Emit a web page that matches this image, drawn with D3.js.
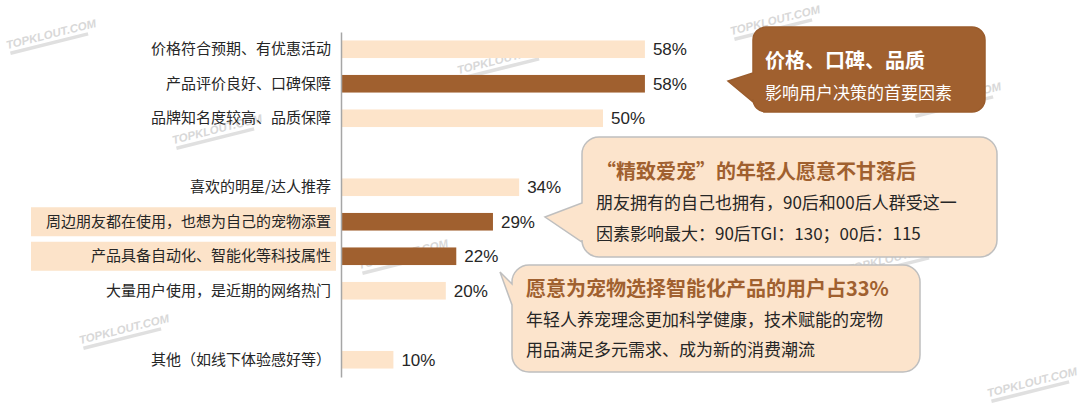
<!DOCTYPE html>
<html>
<head>
<meta charset="utf-8">
<script src="https://cdn.jsdelivr.net/npm/d3@7/dist/d3.min.js"></script>
<style>
  html, body { margin: 0; padding: 0; background: #ffffff; }
  svg { display: block; }
</style>
</head>
<body>
<svg id="chart" width="1080" height="407"></svg>
<script>
// ---------------- data ----------------
const categories = [
  "价格符合预期、有优惠活动",
  "产品评价良好、口碑保障",
  "品牌知名度较高、品质保障",
  "喜欢的明星/达人推荐",
  "周边朋友都在使用，也想为自己的宠物添置",
  "产品具备自动化、智能化等科技属性",
  "大量用户使用，是近期的网络热门",
  "其他（如线下体验感好等）"
];
const values = [58, 58, 50, 34, 29, 22, 20, 10];
const groups = [0, 0, 0, 1, 1, 1, 1, 2];
const darkBars = ["产品评价良好、口碑保障", "周边朋友都在使用，也想为自己的宠物添置", "产品具备自动化、智能化等科技属性"];
const highlightedLabels = ["周边朋友都在使用，也想为自己的宠物添置", "产品具备自动化、智能化等科技属性"];

const callout1Title = "价格、口碑、品质";
const callout1Lines = ["影响用户决策的首要因素"];
const callout2Title = "“精致爱宠”的年轻人愿意不甘落后";
const callout2Lines = ["朋友拥有的自己也拥有，90后和00后人群受这一", "因素影响最大：90后TGI：130；00后：115"];
const callout3Title = "愿意为宠物选择智能化产品的用户占33%";
const callout3Lines = ["年轻人养宠理念更加科学健康，技术赋能的宠物", "用品满足多元需求、成为新的消费潮流"];
const watermarkText = "TOPKLOUT.COM";

// ---------------- setup ----------------
const CJK = "'Noto Sans CJK SC', 'Noto Sans', sans-serif";
const LAT = "'Liberation Sans', Arial, sans-serif";
const LIGHT = "#FDE4CA";
const DARK = "#A0602F";
const TEXT = "#262626";

const svg = d3.select("#chart");

const nSlots = categories.length + d3.max(groups);
const slotOf = categories.map((c, i) => i + groups[i]);

const y = d3.scaleBand()
  .domain(d3.range(nSlots))
  .range([32, 377])
  .paddingInner(0.49)
  .paddingOuter(0.245);

const x = d3.scaleLinear().domain([0, 100]).range([341, 865]);

// ---------------- watermarks ----------------
const wmLayer = svg.append("g").attr("class", "watermarks");
const wmSpots = [[52, 38], [218, 133], [776, 24], [503, 63], [404, 258], [125, 333], [1033, 386], [957, 101], [893, 262]];
wmSpots.forEach(([cx, cy]) => {
  const g = wmLayer.append("g").attr("transform", `translate(${cx},${cy}) rotate(-14)`);
  g.append("text")
    .attr("x", 0).attr("y", 0)
    .attr("text-anchor", "middle")
    .attr("font-family", LAT)
    .attr("font-weight", "bold")
    .attr("font-style", "italic")
    .attr("font-size", 11.5)
    .attr("fill", "#d8d8d8")
    .text(watermarkText);
  g.append("rect")
    .attr("x", -44).attr("y", 3)
    .attr("width", 80).attr("height", 3.5)
    .attr("fill", "#e0e0e0");
});

// ---------------- label highlights ----------------
svg.append("g").selectAll("rect")
  .data(categories.map((c, i) => ({ c, slot: slotOf[i] })).filter(d => highlightedLabels.includes(d.c)))
  .join("rect")
  .attr("x", 31)
  .attr("width", 305)
  .attr("y", d => y(d.slot) + y.bandwidth() / 2 - 14.5)
  .attr("height", 29)
  .attr("fill", "#FCE3C9");

// ---------------- bars ----------------
svg.append("g").selectAll("rect")
  .data(categories.map((c, i) => ({ c, v: values[i], slot: slotOf[i] })))
  .join("rect")
  .attr("x", x(0))
  .attr("y", d => y(d.slot))
  .attr("width", d => x(d.v) - x(0))
  .attr("height", y.bandwidth())
  .attr("fill", d => darkBars.includes(d.c) ? DARK : LIGHT);

// value labels
svg.append("g").selectAll("text")
  .data(categories.map((c, i) => ({ c, v: values[i], slot: slotOf[i] })))
  .join("text")
  .attr("x", d => x(d.v) + 8)
  .attr("y", d => y(d.slot) + y.bandwidth() / 2)
  .attr("dy", "0.36em")
  .attr("font-family", LAT)
  .attr("font-size", 17)
  .attr("fill", TEXT)
  .text(d => d.v + "%");

// ---------------- axis ----------------
const axis = d3.axisLeft(y)
  .tickValues(slotOf)
  .tickFormat(s => categories[slotOf.indexOf(s)])
  .tickSize(0)
  .tickSizeOuter(0)
  .tickPadding(10);

const axG = svg.append("g")
  .attr("transform", `translate(${x(0)},0)`)
  .call(axis);
axG.select(".domain").attr("stroke", "#A6A6A6").attr("stroke-width", 1.5);
axG.selectAll(".tick text")
  .attr("font-family", CJK)
  .attr("font-size", 15)
  .attr("fill", TEXT);

// ---------------- callouts ----------------
function bubble(x0, y0, x1, y1, r, tail) {
  const [ta, tx, ty, tb] = tail;
  const p = d3.path();
  p.moveTo(x0 + r, y0);
  p.lineTo(x1 - r, y0);
  p.arcTo(x1, y0, x1, y0 + r, r);
  p.lineTo(x1, y1 - r);
  p.arcTo(x1, y1, x1 - r, y1, r);
  p.lineTo(x0 + r, y1);
  p.arcTo(x0, y1, x0, y1 - r, r);
  p.lineTo(x0, tb);
  p.lineTo(tx, ty);
  p.lineTo(x0, ta);
  p.lineTo(x0, y0 + r);
  p.arcTo(x0, y0, x0 + r, y0, r);
  p.closePath();
  return p.toString();
}

function callout(cfg) {
  const g = svg.append("g");
  g.append("path")
    .attr("d", bubble(cfg.x0, cfg.y0, cfg.x1, cfg.y1, cfg.r, cfg.tail))
    .attr("fill", cfg.fill)
    .attr("stroke", cfg.stroke)
    .attr("stroke-width", 1.5);
  g.append("text")
    .attr("x", cfg.tx).attr("y", cfg.titleY)
    .attr("font-family", CJK)
    .attr("font-weight", "bold")
    .attr("font-size", 20)
    .attr("fill", cfg.titleColor)
    .text(cfg.title);
  g.selectAll("text.body")
    .data(cfg.lines)
    .join("text")
    .attr("class", "body")
    .attr("x", cfg.tx)
    .attr("y", (d, i) => cfg.lineY + i * cfg.lineGap)
    .attr("font-family", CJK)
    .attr("font-size", 17)
    .attr("fill", cfg.bodyColor)
    .text(d => d);
}

callout({
  x0: 753, y0: 27, x1: 985, y1: 112, r: 13,
  tail: [73, 728, 81, 102],
  fill: DARK, stroke: "#9a5c2c",
  tx: 765, titleY: 68, lineY: 99, lineGap: 30,
  title: callout1Title, lines: callout1Lines,
  titleColor: "#ffffff", bodyColor: "#ffffff"
});

callout({
  x0: 582, y0: 137, x1: 997, y1: 257, r: 17,
  tail: [203, 545, 217, 242],
  fill: "#FCE4CC", stroke: "#BFBFBF",
  tx: 596, titleY: 179, lineY: 209, lineGap: 31,
  title: callout2Title, lines: callout2Lines,
  titleColor: DARK, bodyColor: TEXT
});

callout({
  x0: 512, y0: 265, x1: 920, y1: 372, r: 17,
  tail: [284, 500, 272, 305],
  fill: "#FCE4CC", stroke: "#BFBFBF",
  tx: 526, titleY: 296, lineY: 326, lineGap: 30,
  title: callout3Title, lines: callout3Lines,
  titleColor: DARK, bodyColor: TEXT
});
</script>
</body>
</html>
